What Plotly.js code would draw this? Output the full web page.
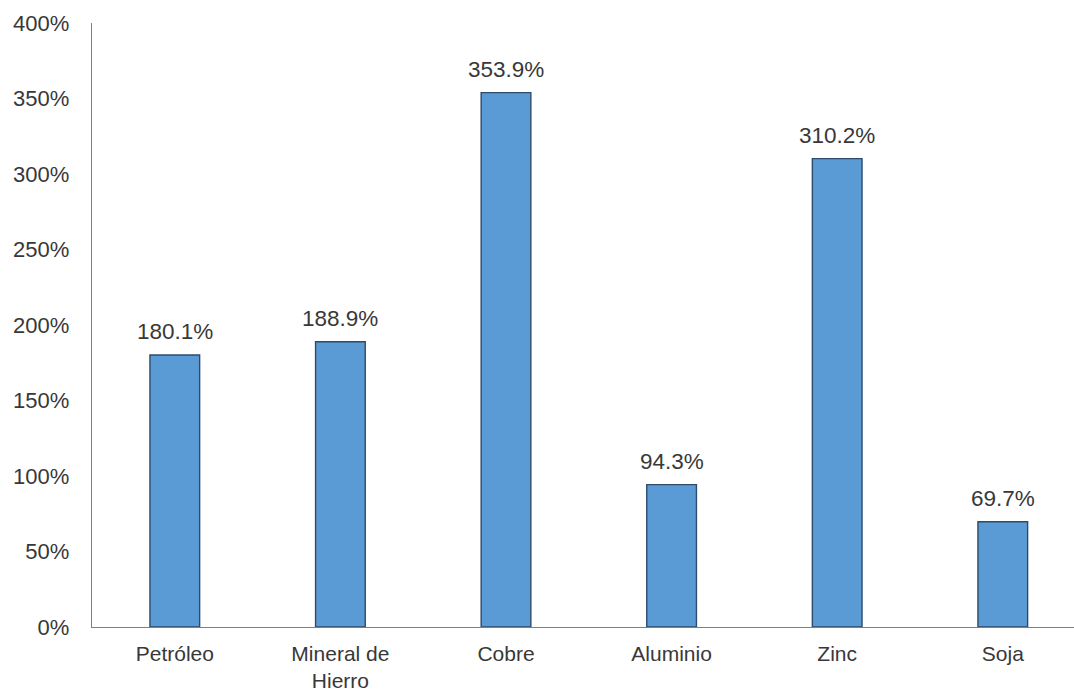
<!DOCTYPE html>
<html>
<head>
<meta charset="utf-8">
<script src="https://cdn.plot.ly/plotly-3.0.1.min.js"></script>
<style>html,body{margin:0;padding:0;background:#fff;overflow:hidden}#chart{width:1074px;height:693px}</style>
</head>
<body>
<div id="chart"></div>
<script>
const categories = ["Petróleo", "Mineral de<br>Hierro", "Cobre", "Aluminio", "Zinc", "Soja"];
const values = [180.1, 188.9, 353.9, 94.3, 310.2, 69.7];
const valueLabels = ["180.1%", "188.9%", "353.9%", "94.3%", "310.2%", "69.7%"];
const yTicks = [0, 50, 100, 150, 200, 250, 300, 350, 400];
const yTickLabels = ["0%", "50%", "100%", "150%", "200%", "250%", "300%", "350%", "400%"];

const xIdx = categories.map((_, i) => i);

const trace = {
  type: "bar",
  x: xIdx,
  y: values,
  width: 0.3,
  marker: {color: "#5B9BD5", line: {color: "#2E4B6B", width: 1.4}},
  hoverinfo: "skip"
};

const annotations = xIdx.map((x, i) => ({
  x: x, y: values[i], xref: "x", yref: "y",
  text: valueLabels[i], showarrow: false,
  yanchor: "bottom", yshift: 9,
  font: {family: "Liberation Sans, Arial, sans-serif", size: 22.5, color: "#383838"}
}));

const layout = {
  width: 1074, height: 693,
  margin: {l: 92, r: 0, t: 23, b: 66},
  paper_bgcolor: "#ffffff", plot_bgcolor: "#ffffff",
  showlegend: false,
  font: {family: "Liberation Sans, Arial, sans-serif", size: 22, color: "#383838"},
  xaxis: {
    range: [-0.5, 5.43],
    tickmode: "array", tickvals: xIdx, ticktext: categories,
    showline: true, linecolor: "#7f7f7f", linewidth: 1.3,
    showgrid: false, zeroline: false, ticks: "outside", ticklen: 7, tickcolor: "rgba(0,0,0,0)",
    tickfont: {size: 21, color: "#383838"}
  },
  yaxis: {
    range: [0, 400],
    tickmode: "array", tickvals: yTicks, ticktext: yTickLabels,
    showline: true, linecolor: "#7f7f7f", linewidth: 1.3,
    showgrid: false, zeroline: false, ticks: "outside", ticklen: 17, tickcolor: "rgba(0,0,0,0)",
    tickfont: {size: 22, color: "#383838"}
  },
  annotations: annotations
};

Plotly.newPlot("chart", [trace], layout, {displayModeBar: false, staticPlot: true});
</script>
</body>
</html>
